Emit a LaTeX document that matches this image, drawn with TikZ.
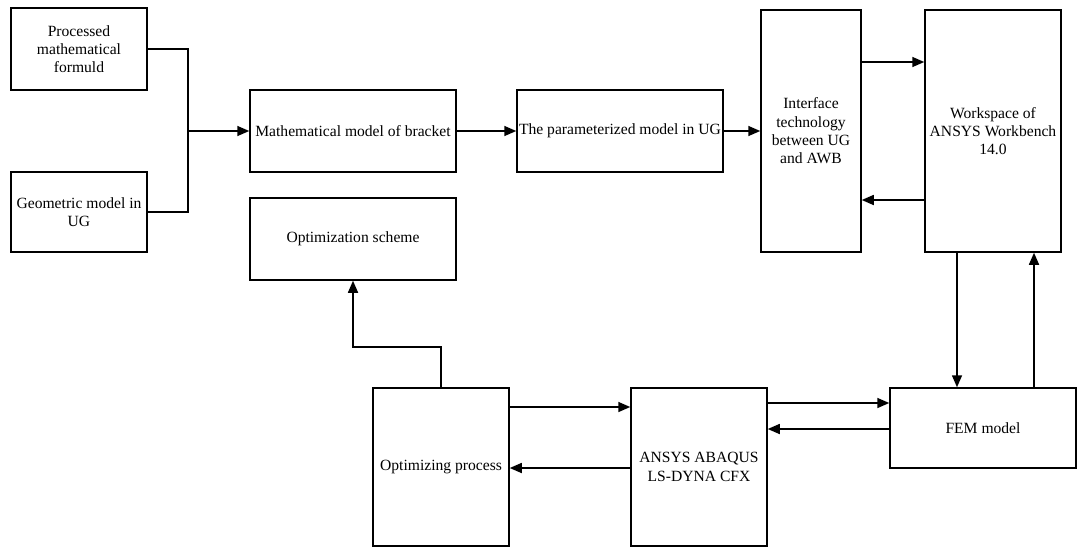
\documentclass[tikz,border=0pt]{standalone}
\usepackage{fontspec}
\setmainfont{Liberation Serif}
\usetikzlibrary{arrows.meta,calc}
\begin{document}
\begin{tikzpicture}[x=1pt,y=-1pt,
  box/.style={draw,line width=1.5pt,align=center,inner sep=2pt,font=\fontsize{15.6}{18.3}\selectfont},
  arr/.style={line width=1.6pt,-{Triangle[length=12pt,width=10pt]}},
  lnk/.style={line width=1.6pt}]
  \useasboundingbox (0,0) rectangle (1090,547);
  \node[box,minimum width=136,minimum height=82] (proc) at (79,49) {Processed\\mathematical\\formuld};
  \node[box,minimum width=136,minimum height=80] (geo) at (79,212) {Geometric model in\\UG};
  \node[box,minimum width=206,minimum height=82] (math) at (353,131) {Mathematical model of bracket};
  \node[box,minimum width=206,minimum height=82] (scheme) at (353,239) {Optimization scheme};
  \node[box,minimum width=206,minimum height=82] (param) at (620,131) {The parameterized model in UG};
  \node[box,minimum width=100,minimum height=242] (iface) at (811,131) {Interface\\technology\\between UG\\and AWB};
  \node[box,minimum width=136,minimum height=242] (work) at (993,131) {Workspace of\\ANSYS Workbench\\14.0};
  \node[box,minimum width=186,minimum height=80] (fem) at (983,428) {FEM model};
  \node[box,minimum width=136,minimum height=158] (ansys) at (699,467) {ANSYS ABAQUS\\LS-DYNA CFX};
  \node[box,minimum width=136,minimum height=158] (opt) at (441,467) {Optimizing process};
  \coordinate (join) at (188,131);
  \draw[lnk] (proc.east) -| (join) |- (geo.east);
  \draw[arr] (join) -- (math.west);
  \draw[arr] (math.east) -- (param.west);
  \draw[arr] (param.east) -- (iface.west);
  \draw[arr] ([yshift=69pt]iface.east) -- ([yshift=69pt]work.west);
  \draw[arr] ([yshift=-69pt]work.west) -- ([yshift=-69pt]iface.east);
  \draw[arr] ([xshift=-36pt]work.south) -- ([xshift=-36pt]work.south |- fem.north);
  \draw[arr] ([xshift=41pt]work.south |- fem.north) -- ([xshift=41pt]work.south);
  \draw[arr] ([yshift=64pt]ansys.east) -- ([yshift=64pt]ansys.east -| fem.west);
  \draw[arr] ([yshift=-1pt]fem.west) -- ([yshift=-1pt]fem.west -| ansys.east);
  \draw[arr] ([yshift=60pt]opt.east) -- ([yshift=60pt]opt.east -| ansys.west);
  \draw[arr] ([yshift=-1pt]ansys.west) -- ([yshift=-1pt]opt.east);
  \draw[arr] (opt.north) -- ++(0,-40) -| (scheme.south);
\end{tikzpicture}
\end{document}
